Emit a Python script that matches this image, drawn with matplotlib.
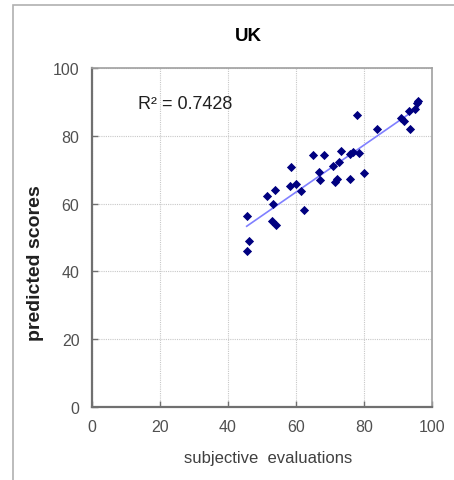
import numpy as np
import matplotlib
matplotlib.use("Agg")
import matplotlib.pyplot as plt
from matplotlib.patches import Rectangle

plt.rcParams["font.family"] = ["Liberation Sans", "DejaVu Sans"]

title = "UK"
x_label = "subjective  evaluations"
y_label = "predicted scores"
r2_text = "R² = 0.7428"
ticks = [0, 20, 40, 60, 80, 100]

subjective = [45.5, 46.3, 45.5, 51.6, 53.8, 53.3, 52.8, 54.2, 58.5, 58.2, 60.0, 61.5, 62.4,
              64.9, 68.2, 66.8, 67.1, 71.0, 72.7, 73.2, 71.5, 72.2, 75.9, 75.9, 76.7, 78.6,
              80.0, 77.8, 83.7, 90.8, 91.8, 93.5, 93.3, 95.0, 95.7, 96.0]
predicted = [56.2, 49.1, 46.0, 62.3, 64.0, 59.8, 54.8, 53.8, 70.9, 65.1, 65.8, 63.8, 58.2,
             74.2, 74.2, 69.2, 67.0, 71.0, 72.4, 75.4, 66.5, 67.3, 67.3, 74.6, 75.1, 74.9,
             68.9, 86.1, 82.0, 85.3, 84.5, 82.0, 87.2, 87.9, 89.6, 90.4]

W, H = 454, 481
fig = plt.figure(figsize=(W / 100, H / 100), dpi=100)
fig.patch.set_facecolor("white")
fig.patches.append(Rectangle((13 / W, -0.1), 1.2, 1 - 6 / H + 0.1, transform=fig.transFigure,
                             fill=False, edgecolor="#b0b0b0", linewidth=1.2))

ax = fig.add_axes([92 / W, 1 - 408 / H, 340 / W, 339 / H])
ax.set_xlim(0, 100)
ax.set_ylim(0, 100)
ax.set_xticks(ticks)
ax.set_yticks(ticks)
ax.grid(True, color="#c8c8c8", linestyle=(0, (1, 1)), linewidth=0.8)
ax.set_axisbelow(True)
for s in ["left", "bottom"]:
    ax.spines[s].set_color("#707070")
    ax.spines[s].set_linewidth(1.6)
for s in ["top", "right"]:
    ax.spines[s].set_color("#a0a0a0")
    ax.spines[s].set_linewidth(1.2)
ax.tick_params(direction="in", length=4, width=1, color="#707070",
               labelsize=11.5, labelcolor="#505050", pad=9)

xs = np.array(subjective)
ys = np.array(predicted)
m, b = np.polyfit(xs, ys, 1)
xl = np.array([xs.min(), xs.max()])
ax.plot(xl, m * xl + b, color="#8080ff", linewidth=1.2, zorder=2)
ax.scatter(xs, ys, marker="D", s=22, color="#000080", zorder=3, linewidths=0)

ax.text(13.5, 89.4, r2_text, fontsize=13, color="#202020", va="center", ha="left")
fig.text(248 / W, 1 - 37 / H, title, fontsize=13.5, fontweight="bold", ha="center", va="center")
fig.text(268 / W, 1 - 459 / H, x_label, fontsize=12, color="#404040", ha="center", va="center")
fig.text(36 / W, 1 - 263 / H, y_label, fontsize=14, fontweight="bold", color="#202020",
         ha="center", va="center", rotation=90)

fig.savefig("out.png", dpi=100, facecolor="white")
